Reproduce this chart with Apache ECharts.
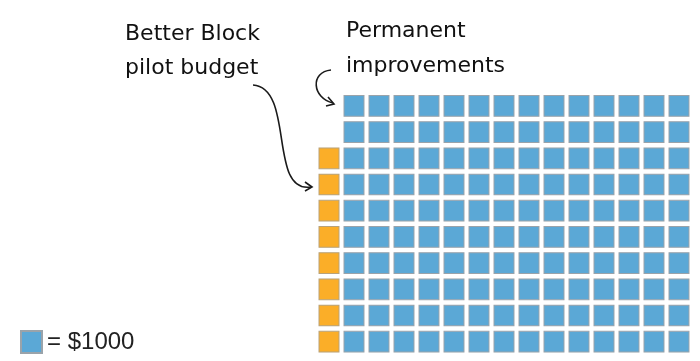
<!DOCTYPE html>
<html>
<head>
<meta charset="utf-8">
<script src="https://cdn.jsdelivr.net/npm/echarts@6/dist/echarts.min.js"></script>
<style>html,body{margin:0;padding:0;background:#fff;}#chart{width:700px;height:361px;}</style>
</head>
<body>
<div id="chart"></div>
<script>
// Each square = $1000. Counts per row, top row first.
const unitLabel = '= $1000';
const columnCount = 15;
const rowCount = 10;
const permanentPerRow = [14, 14, 14, 14, 14, 14, 14, 14, 14, 14];
const pilotPerRow = [0, 0, 1, 1, 1, 1, 1, 1, 1, 1];
const annotationPilot = 'Better Block\npilot budget';
const annotationPermanent = 'Permanent\nimprovements';

const cols = Array.from({length: columnCount}, (_, i) => String(i));
const rows = Array.from({length: rowCount}, (_, i) => String(i));

const pilotData = [];
const permanentData = [];
rows.forEach((r, ri) => {
  for (let k = 0; k < pilotPerRow[ri]; k++) pilotData.push([k, ri]);
  for (let k = 0; k < permanentPerRow[ri]; k++) permanentData.push([columnCount - permanentPerRow[ri] + k, ri]);
});

const chart = echarts.init(document.getElementById('chart'), null, {renderer: 'canvas'});
const sq = [20, 20.7];
chart.setOption({
  animation: false,
  backgroundColor: '#ffffff',
  grid: {left: 316.5, top: 92.8, width: 375, height: 262},
  xAxis: {type: 'category', data: cols, show: false, boundaryGap: true},
  yAxis: {type: 'category', data: rows, show: false, inverse: true, boundaryGap: true},
  legend: {
    data: [unitLabel], left: 20, top: 330, itemWidth: 21, itemHeight: 22, itemGap: 5,
    icon: 'rect',
    textStyle: {fontFamily: '"Liberation Sans", Arial, sans-serif', fontSize: 24, color: '#222', padding: [0,0,0,0]},
    padding: 0
  },
  series: [
    {
      name: unitLabel, type: 'scatter', symbol: 'rect', symbolSize: sq,
      data: permanentData,
      itemStyle: {color: '#5ba8d6', borderColor: '#9aa3aa', borderWidth: 1, opacity: 1}
    },
    {
      name: 'pilot', type: 'scatter', symbol: 'rect', symbolSize: sq,
      data: pilotData,
      itemStyle: {color: '#fbae28', borderColor: '#b8a27a', borderWidth: 1, opacity: 1}
    }
  ],
  graphic: [
    {type: 'text', left: 125, top: 17, style: {text: annotationPilot, font: '22px "DejaVu Sans", sans-serif', fill: '#111', lineHeight: 34}},
    {type: 'text', left: 346, top: 14, style: {text: annotationPermanent, font: '22px "DejaVu Sans", sans-serif', fill: '#111', lineHeight: 35}},
    {type: 'bezierCurve', shape: {x1: 253, y1: 85, cpx1: 295, cpy1: 88, cpx2: 268, cpy2: 194, x2: 311, y2: 187}, style: {stroke: '#1a1a1a', lineWidth: 1.6, fill: null}},
    {type: 'polyline', shape: {points: [[305, 182], [312, 187], [305, 191]]}, style: {stroke: '#1a1a1a', lineWidth: 1.6, fill: null}},
    {type: 'bezierCurve', shape: {x1: 331, y1: 70, cpx1: 310, cpy1: 72, cpx2: 312, cpy2: 98, x2: 333, y2: 103}, style: {stroke: '#1a1a1a', lineWidth: 1.6, fill: null}},
    {type: 'polyline', shape: {points: [[328, 97], [334, 104], [326, 106]]}, style: {stroke: '#1a1a1a', lineWidth: 1.6, fill: null}}
  ]
});
</script>
</body>
</html>
